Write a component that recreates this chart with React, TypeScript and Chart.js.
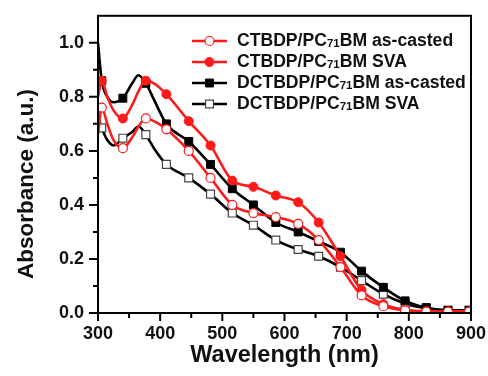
import { useEffect, useRef } from 'react';
import { Chart, registerables } from 'chart.js';

Chart.register(...registerables);

const FONT = '"Liberation Sans", Arial, Helvetica, sans-serif';

// Wavelength sampling (nm)
const WL = [300, 306, 315, 325, 340, 355, 365, 377, 390, 410, 446, 481, 516, 550, 586, 622, 655, 690, 724, 759, 794, 828, 863, 897];
// Wavelengths where markers are drawn
const MARKER_WL = [306, 340, 377, 410, 446, 481, 516, 550, 586, 622, 655, 690, 724, 759, 794, 828, 863, 897];

const SERIES_LABELS = [
  'CTBDP/PC71BM as-casted',
  'CTBDP/PC71BM SVA',
  'DCTBDP/PC71BM as-casted',
  'DCTBDP/PC71BM SVA',
];

const CT_ASCAST = [0.66, 0.76, 0.70, 0.64, 0.61, 0.65, 0.69, 0.72, 0.71, 0.68, 0.60, 0.50, 0.40, 0.37, 0.355, 0.33, 0.27, 0.17, 0.065, 0.025, 0.01, 0.005, 0.005, 0.005];
const CT_SVA = [0.80, 0.86, 0.80, 0.75, 0.72, 0.77, 0.82, 0.86, 0.85, 0.81, 0.71, 0.62, 0.49, 0.467, 0.435, 0.41, 0.335, 0.21, 0.085, 0.033, 0.012, 0.006, 0.005, 0.005];
const DCT_ASCAST = [1.0, 0.86, 0.80, 0.78, 0.795, 0.85, 0.88, 0.85, 0.79, 0.70, 0.635, 0.55, 0.46, 0.40, 0.335, 0.30, 0.265, 0.225, 0.155, 0.095, 0.045, 0.02, 0.01, 0.01];
const DCT_SVA = [0.72, 0.685, 0.64, 0.62, 0.647, 0.67, 0.69, 0.66, 0.61, 0.55, 0.50, 0.44, 0.37, 0.325, 0.27, 0.235, 0.21, 0.17, 0.12, 0.07, 0.035, 0.017, 0.01, 0.01];

const X_MIN = 300;
const X_MAX = 900;
const Y_MIN = 0;
const Y_MAX = 1.1;

const X_TITLE = 'Wavelength (nm)';
const Y_TITLE = 'Absorbance (a.u.)';

const STYLES = [
  { color: '#ff1a1a', pointStyle: 'circle', fill: '#ffffff', border: '#ff1a1a', r: 4.5, bw: 1.2 },
  { color: '#ff1a1a', pointStyle: 'circle', fill: '#ff1a1a', border: '#ff1a1a', r: 4.5, bw: 1 },
  { color: '#000000', pointStyle: 'rect', fill: '#000000', border: '#000000', r: 5.6, bw: 1 },
  { color: '#000000', pointStyle: 'rect', fill: '#ffffff', border: '#444444', r: 5.6, bw: 1.2 },
];

function drawMarker(ctx: CanvasRenderingContext2D, s: any, x: number, y: number) {
  ctx.save();
  ctx.fillStyle = s.fill;
  ctx.strokeStyle = s.border;
  ctx.lineWidth = s.bw;
  ctx.beginPath();
  if (s.pointStyle === 'circle') {
    ctx.arc(x, y, s.r, 0, Math.PI * 2);
  } else {
    const h = s.r * Math.SQRT1_2;
    ctx.rect(x - h, y - h, 2 * h, 2 * h);
  }
  ctx.fill();
  ctx.stroke();
  ctx.restore();
}

const framePlugin = {
  id: 'frameTicks',
  afterDraw(chart: any) {
    const { ctx, chartArea } = chart;
    const { left, right, top, bottom } = chartArea;
    const xs = chart.scales.x;
    const ys = chart.scales.y;
    ctx.save();
    ctx.strokeStyle = '#000';
    ctx.lineWidth = 2;
    ctx.beginPath();
    xs.ticks.forEach((t: any) => {
      const px = xs.getPixelForValue(t.value);
      const major = Math.round(t.value) % 100 === 0;
      const len = major ? 8 : 5;
      ctx.moveTo(px, bottom);
      ctx.lineTo(px, bottom + len);
    });
    ys.ticks.forEach((t: any) => {
      if (t.value > 1.05) return;
      const py = ys.getPixelForValue(t.value);
      const major = Math.round(t.value * 10) % 2 === 0;
      const len = major ? 9 : 5;
      ctx.moveTo(left, py);
      ctx.lineTo(left - len, py);
    });
    ctx.stroke();
    ctx.strokeRect(left, top, right - left, bottom - top);

    // axis titles
    ctx.fillStyle = '#111';
    ctx.textAlign = 'center';
    ctx.textBaseline = 'middle';
    ctx.font = `bold 23.5px ${FONT}`;
    ctx.fillText(X_TITLE, (left + right) / 2, 356);
    ctx.save();
    ctx.font = `bold 22.5px ${FONT}`;
    ctx.translate(27, 184);
    ctx.rotate(-Math.PI / 2);
    ctx.fillText(Y_TITLE, 0, 0);
    ctx.restore();

    // legend
    const rowY = [41, 62, 83, 104];
    const lx0 = 192, lx1 = 227, tx = 237;
    SERIES_LABELS.forEach((label, i) => {
      const s = STYLES[i];
      const y = rowY[i];
      ctx.strokeStyle = s.color;
      ctx.lineWidth = 2.5;
      ctx.beginPath();
      ctx.moveTo(lx0, y);
      ctx.lineTo(lx1, y);
      ctx.stroke();
      drawMarker(ctx, s, (lx0 + lx1) / 2, y);
      const parts = label.split(/(71)/);
      let x = tx;
      ctx.textAlign = 'left';
      ctx.textBaseline = 'middle';
      ctx.fillStyle = '#111';
      parts.forEach((p) => {
        if (p === '71') {
          ctx.font = `bold 11.5px ${FONT}`;
          ctx.fillText(p, x, y + 3);
        } else {
          ctx.font = `bold 17.6px ${FONT}`;
          ctx.fillText(p, x, y);
        }
        x += ctx.measureText(p).width;
      });
    });
    ctx.restore();
  },
};

export default function App() {
  const ref = useRef<HTMLCanvasElement>(null);
  useEffect(() => {
    if (!ref.current) return;
    const markerSet = new Set(MARKER_WL);
    const allSeries = [CT_ASCAST, CT_SVA, DCT_ASCAST, DCT_SVA];
    const datasets = allSeries.map((vals, i) => {
      const s = STYLES[i];
      return {
        label: SERIES_LABELS[i],
        data: WL.map((x, k) => ({ x, y: vals[k] })),
        borderColor: s.color,
        borderWidth: 2.6,
        backgroundColor: s.color,
        pointStyle: s.pointStyle,
        pointBackgroundColor: s.fill,
        pointBorderColor: s.border,
        pointBorderWidth: s.bw,
        pointRadius: (c: any) => (markerSet.has(WL[c.dataIndex]) ? s.r : 0),
        pointHoverRadius: 0,
        cubicInterpolationMode: 'monotone' as const,
        fill: false,
      };
    });
    const chart = new Chart(ref.current, {
      type: 'line',
      data: { datasets },
      options: {
        animation: false,
        responsive: false,
        devicePixelRatio: 1,
        layout: { padding: { left: 0, right: 16, top: 14, bottom: 0 } },
        plugins: { legend: { display: false }, tooltip: { enabled: false } },
        scales: {
          x: {
            type: 'linear',
            min: X_MIN,
            max: X_MAX,
            grid: { display: true, drawOnChartArea: false, drawTicks: true, tickLength: 8, color: 'rgba(0,0,0,0)' },
            border: { display: false },
            ticks: {
              stepSize: 50,
              autoSkip: false,
              maxRotation: 0,
              padding: 2,
              color: '#111',
              font: { family: FONT, size: 18, weight: 'bold' },
              callback: (v: any) => (Math.round(v) % 100 === 0 ? String(Math.round(v)) : ''),
            },
            afterFit: (sc: any) => { sc.height = 63; },
          },
          y: {
            type: 'linear',
            min: Y_MIN,
            max: Y_MAX,
            grid: { display: true, drawOnChartArea: false, drawTicks: true, tickLength: 9, color: 'rgba(0,0,0,0)' },
            border: { display: false },
            ticks: {
              stepSize: 0.1,
              autoSkip: false,
              padding: 5,
              color: '#111',
              font: { family: FONT, size: 18, weight: 'bold' },
              callback: (v: any) => {
                const n = Math.round(v * 10);
                return n % 2 === 0 && n <= 10 ? (n / 10).toFixed(1) : '';
              },
            },
            afterFit: (sc: any) => { sc.width = 98; },
          },
        },
      },
      plugins: [framePlugin],
    });
    return () => chart.destroy();
  }, []);
  return (
    <div style={{ position: 'fixed', left: 0, top: 0, width: 488, height: 376, background: '#fff' }}>
      <canvas ref={ref} width={488} height={376} style={{ display: 'block' }} />
    </div>
  );
}
